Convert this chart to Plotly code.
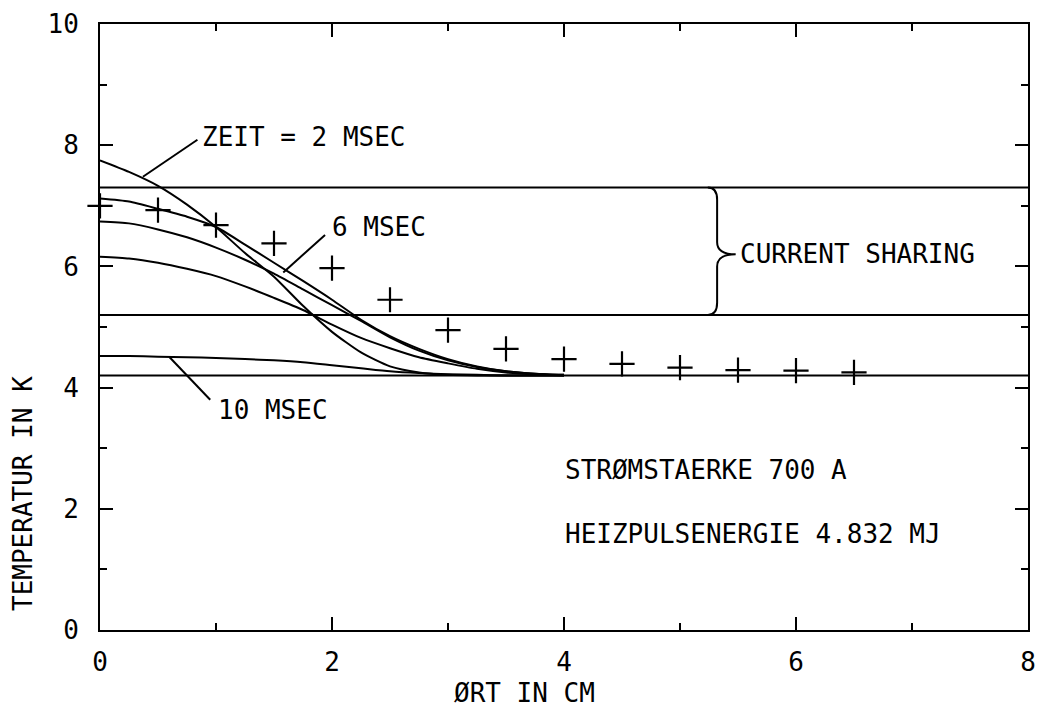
import plotly.graph_objects as go

# ---- data ----
x_grid = [0, 0.25, 0.5, 0.75, 1.0, 1.25, 1.5, 1.75, 2.0, 2.25, 2.5, 2.75, 3.0, 3.25, 3.5, 3.75, 4.0]
t_2ms = [7.75, 7.56, 7.33, 7.02, 6.65, 6.22, 5.83, 5.35, 4.92, 4.58, 4.35, 4.25, 4.21, 4.2, 4.2, 4.2, 4.2]
t_4ms = [7.12, 7.07, 6.95, 6.82, 6.65, 6.36, 6.06, 5.76, 5.45, 5.12, 4.85, 4.64, 4.47, 4.35, 4.27, 4.23, 4.21]
t_6ms = [6.74, 6.71, 6.61, 6.48, 6.31, 6.11, 5.88, 5.62, 5.36, 5.10, 4.83, 4.61, 4.45, 4.34, 4.27, 4.23, 4.21]
t_8ms = [6.16, 6.13, 6.06, 5.96, 5.84, 5.67, 5.48, 5.28, 5.04, 4.82, 4.65, 4.50, 4.40, 4.31, 4.25, 4.22, 4.20]
t_10ms = [4.52, 4.52, 4.51, 4.50, 4.49, 4.47, 4.45, 4.42, 4.37, 4.32, 4.27, 4.24, 4.22, 4.21, 4.2, 4.2, 4.2]

x_meas = [0, 0.5, 1.0, 1.5, 2.0, 2.5, 3.0, 3.5, 4.0, 4.5, 5.0, 5.5, 6.0, 6.5]
t_meas = [7.0, 6.93, 6.68, 6.38, 5.97, 5.45, 4.95, 4.64, 4.47, 4.39, 4.33, 4.29, 4.28, 4.25]

x_span = [0, 8]
t_cs_upper = 7.3
t_cs_lower = 5.2
t_bath = 4.2

x_ticks = [0, 2, 4, 6, 8]
y_ticks = [0, 2, 4, 6, 8, 10]

FONT = "DejaVu Sans Mono"
FS = 26
LW = 2

fig = go.Figure()

for ys in [t_2ms, t_4ms, t_6ms, t_8ms, t_10ms]:
    fig.add_trace(go.Scatter(x=x_grid, y=ys, mode="lines",
                             line=dict(color="black", width=LW, shape="spline", smoothing=0.6),
                             showlegend=False, hoverinfo="skip"))

for yv in [t_cs_upper, t_cs_lower, t_bath]:
    fig.add_trace(go.Scatter(x=x_span, y=[yv, yv], mode="lines",
                             line=dict(color="black", width=LW),
                             showlegend=False, hoverinfo="skip"))

fig.add_trace(go.Scatter(x=x_meas, y=t_meas, mode="markers",
                         marker=dict(symbol="cross-thin", size=18, line=dict(color="black", width=2.2)),
                         showlegend=False, cliponaxis=False))

# leader lines
leaders = [
    ((0.37, 7.48), (0.84, 8.09)),
    ((1.58, 5.90), (1.94, 6.52)),
    ((0.60, 4.50), (0.95, 3.80)),
]
for (x0, y0), (x1, y1) in leaders:
    fig.add_shape(type="line", x0=x0, y0=y0, x1=x1, y1=y1,
                  line=dict(color="black", width=LW), xref="x", yref="y")

# brace
fig.add_shape(type="path", xref="x", yref="y",
              path="M 5.24,7.3 Q 5.32,7.3 5.32,7.1 L 5.32,6.4 Q 5.32,6.2 5.48,6.2 "
                   "Q 5.32,6.2 5.32,6.0 L 5.32,5.4 Q 5.32,5.2 5.24,5.2",
              line=dict(color="black", width=LW))

texts = [
    (0.86, 8.14, "ZEIT = 2 MSEC"),
    (1.98, 6.65, "6 MSEC"),
    (1.0, 3.63, "10 MSEC"),
    (5.5, 6.2, "CURRENT SHARING"),
    (3.99, 2.64, "STRØMSTAERKE 700 A"),
    (3.99, 1.58, "HEIZPULSENERGIE 4.832 MJ"),
]
for x, y, t in texts:
    fig.add_annotation(x=x, y=y, text=t, showarrow=False, xanchor="left", yanchor="middle",
                       font=dict(family=FONT, size=FS, color="black"))

fig.add_annotation(x=-0.083, y=2.26, xref="paper", yref="y", text="TEMPERATUR IN K", textangle=-90,
                   showarrow=False, xanchor="center", yanchor="middle",
                   font=dict(family=FONT, size=FS, color="black"))
fig.add_annotation(x=0.457, y=-0.104, xref="paper", yref="paper", text="ØRT IN CM",
                   showarrow=False, xanchor="center", yanchor="middle",
                   font=dict(family=FONT, size=FS, color="black"))

axis_common = dict(showgrid=False, zeroline=False, showline=True, linecolor="black", linewidth=LW,
                   ticks="inside", tickcolor="black", tickwidth=LW, ticklen=13, mirror="ticks",
                   tickfont=dict(family=FONT, size=FS, color="black"))

fig.update_layout(
    width=1044, height=707,
    margin=dict(l=100, r=8, t=24, b=77),
    paper_bgcolor="white", plot_bgcolor="white",
    xaxis=dict(range=[0, 8], tickvals=x_ticks, ticktext=[str(v) for v in x_ticks],
               minor=dict(ticks="inside", ticklen=7, tickwidth=LW, tickcolor="black", dtick=1, tick0=0),
               ticklabelstandoff=8,
               **axis_common),
    yaxis=dict(range=[0, 10], tickvals=y_ticks, ticktext=[str(v) for v in y_ticks],
               minor=dict(ticks="inside", ticklen=7, tickwidth=LW, tickcolor="black", dtick=1, tick0=0),
               ticklabelstandoff=14,
               **axis_common),
)

fig.write_html("out.html")
